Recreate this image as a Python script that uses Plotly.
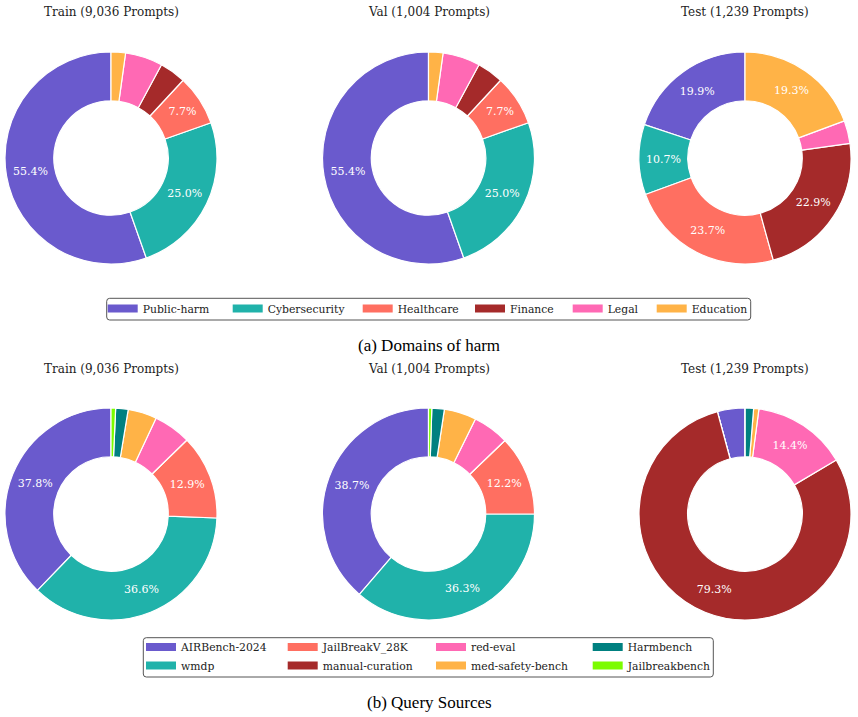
import plotly.graph_objects as go

W, H = 858, 717

# ---------------- data ----------------
domain_labels = ["Public-harm", "Cybersecurity", "Healthcare", "Finance", "Legal", "Education"]
domain_colors = ["#6A5ACD", "#20B2AA", "#FF6F61", "#A52A2A", "#FF69B4", "#FFB347"]
domain_train = [55.4, 25.0, 7.7, 4.0, 5.7, 2.2]
domain_val = [55.4, 25.0, 7.7, 4.0, 5.7, 2.2]
domain_test = [19.9, 10.7, 23.7, 22.9, 3.5, 19.3]

source_labels = ["AIRBench-2024", "wmdp", "JailBreakV_28K", "manual-curation",
                 "red-eval", "med-safety-bench", "Harmbench", "Jailbreakbench"]
source_colors = ["#6A5ACD", "#20B2AA", "#FF6F61", "#A52A2A",
                 "#FF69B4", "#FFB347", "#008080", "#7CFC00"]
source_train = [37.8, 36.6, 12.9, 0.0, 5.7, 4.4, 1.9, 0.7]
source_val = [38.7, 36.3, 12.2, 0.0, 5.5, 4.9, 1.9, 0.5]
source_test = [4.2, 0.0, 0.0, 79.3, 14.4, 0.8, 1.3, 0.0]

split_titles = ["Train (9,036 Prompts)", "Val (1,004 Prompts)", "Test (1,239 Prompts)"]
captions = ["(a) Domains of harm", "(b) Query Sources"]

# ---------------- layout (pixels) ----------------
FONT = "DejaVu Serif"
cx = [111, 428.5, 745]
cy = [158, 514]
R = 106
HOLE = 0.54

# legend entry text positions (px)
dom_leg_x = [142.7, 267.7, 397.7, 510, 607.7, 691.7]
dom_leg_y = 308.5
src_col_x = [181, 322.7, 471, 627.7]
src_row_y = [647, 665.5]
# legend entries in column-major order: (label, col, row)
src_leg_pos = {"AIRBench-2024": (0, 0), "wmdp": (0, 1), "JailBreakV_28K": (1, 0),
               "manual-curation": (1, 1), "red-eval": (2, 0), "med-safety-bench": (2, 1),
               "Harmbench": (3, 0), "Jailbreakbench": (3, 1)}


def px_x(x):
    return x / W


def px_y(y):
    return 1 - y / H


fig = go.Figure()

rows = [
    (domain_labels, domain_colors, [domain_train, domain_val, domain_test]),
    (source_labels, source_colors, [source_train, source_val, source_test]),
]

for ri, (labels, colors, series) in enumerate(rows):
    for ci, vals in enumerate(series):
        total = sum(vals)
        txt = [f"{v:.1f}%" if v >= 7 else "" for v in vals]
        fig.add_trace(go.Pie(
            labels=labels, values=vals, text=txt, textinfo="text",
            textposition="inside", insidetextorientation="horizontal",
            insidetextfont=dict(family=FONT, size=11, color="white"),
            marker=dict(colors=colors, line=dict(color="white", width=1.2)),
            hole=HOLE, sort=False, direction="counterclockwise",
            rotation=-vals[0] / total * 360,
            showlegend=False, hoverinfo="label+percent",
            domain=dict(x=[px_x(cx[ci] - R), px_x(cx[ci] + R)],
                        y=[px_y(cy[ri] + R), px_y(cy[ri] - R)]),
        ))

legend_font = dict(family=FONT, size=10.8, color="#222")
legends = {}
n = 0


def add_entry(lab, col, tx, ty):
    global n
    n += 1
    lname = "legend" if n == 1 else f"legend{n}"
    fig.add_trace(go.Scatter(x=[None], y=[None], mode="lines", name=lab, legend=lname,
                             line=dict(color=col, width=8), hoverinfo="skip"))
    legends[lname] = dict(orientation="v", x=px_x(tx - 40), xanchor="left",
                          y=px_y(ty), yanchor="middle", borderwidth=0,
                          bgcolor="rgba(0,0,0,0)", font=legend_font,
                          itemclick=False, itemdoubleclick=False)


for lab, col, tx in zip(domain_labels, domain_colors, dom_leg_x):
    add_entry(lab, col, tx, dom_leg_y)

for lab, col in zip(source_labels, source_colors):
    c, r = src_leg_pos[lab]
    add_entry(lab, col, src_col_x[c], src_row_y[r])

annotations = []
for ri, yy in enumerate([12, 369]):
    for ci, t in enumerate(split_titles):
        annotations.append(dict(text=t, x=px_x(cx[ci]), y=px_y(yy), xref="paper", yref="paper",
                                xanchor="center", yanchor="middle", showarrow=False,
                                font=dict(family=FONT, size=12, color="#222")))
for t, yy in zip(captions, [345, 702]):
    annotations.append(dict(text=t, x=0.5, y=px_y(yy), xref="paper", yref="paper",
                            xanchor="center", yanchor="middle", showarrow=False,
                            font=dict(family="Liberation Serif", size=17, color="black")))


def frame(x0, x1, y0, y1, rr=3):
    p = (f"M {px_x(x0 + rr)},{px_y(y0)} L {px_x(x1 - rr)},{px_y(y0)} "
         f"Q {px_x(x1)},{px_y(y0)} {px_x(x1)},{px_y(y0 + rr)} "
         f"L {px_x(x1)},{px_y(y1 - rr)} Q {px_x(x1)},{px_y(y1)} {px_x(x1 - rr)},{px_y(y1)} "
         f"L {px_x(x0 + rr)},{px_y(y1)} Q {px_x(x0)},{px_y(y1)} {px_x(x0)},{px_y(y1 - rr)} "
         f"L {px_x(x0)},{px_y(y0 + rr)} Q {px_x(x0)},{px_y(y0)} {px_x(x0 + rr)},{px_y(y0)} Z")
    return dict(type="path", path=p, xref="paper", yref="paper",
                line=dict(color="#555", width=1), fillcolor="rgba(255,255,255,0.9)", layer="below")


shapes = [frame(106.7, 750.7, 298.3, 320), frame(143.3, 713.3, 637.7, 677)]

fig.update_layout(
    width=W, height=H, margin=dict(l=0, r=0, t=0, b=0),
    paper_bgcolor="white", plot_bgcolor="white",
    xaxis=dict(visible=False), yaxis=dict(visible=False),
    annotations=annotations, shapes=shapes,
    **legends,
)

fig.write_html("out.html")
